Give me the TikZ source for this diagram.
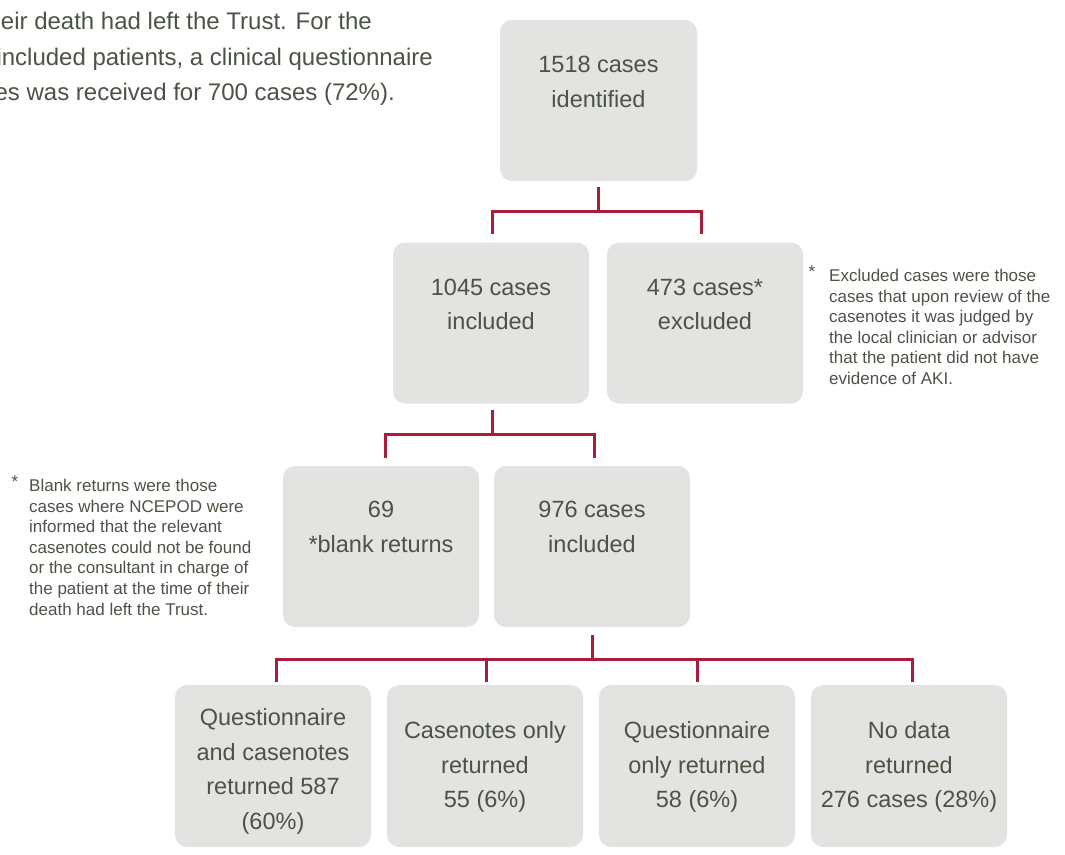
\documentclass[tikz,border=0pt]{standalone}
\usepackage{fontspec}
\setmainfont{Liberation Sans}
\usetikzlibrary{calc}
\definecolor{boxfill}{HTML}{E3E4E1}
\definecolor{txtcol}{HTML}{4A5345}
\definecolor{conncol}{HTML}{A91C3A}
\begin{document}
\begin{tikzpicture}[x=1pt,y=-1pt,
  box/.style={fill=boxfill, rounded corners=12pt, minimum width=196pt, minimum height=161pt, inner sep=0pt},
  lbl/.style={text=txtcol, font=\fontsize{23.5}{34.5}\selectfont, align=center, anchor=north, inner sep=0pt},
  para/.style={text=txtcol, font=\fontsize{24}{35.5}\selectfont, anchor=base east, inner sep=0pt},
  note/.style={text=txtcol, font=\fontsize{17}{20.6}\selectfont, align=left, anchor=north west, inner sep=0pt},
  star/.style={text=txtcol, font=\fontsize{17}{20.6}\selectfont, anchor=north, inner sep=0pt},
  link/.style={draw=conncol, line width=3pt}]
\useasboundingbox (0,0) rectangle (1065,854);
\clip (0,0) rectangle (1065,854);

% paragraph fragment (cut at the left edge)
\node[para] (p1) at (372,29) {their death had left the Trust. For the};
\node[para] (p2) at (433,65) {included patients, a clinical questionnaire};
\node[para] (p3) at (395,100) {casenotes was received for 700 cases (72\%).};

% boxes
\node[box, minimum width=197pt] (b1) at (598.5,100.5) {};
\node[box] (b2) at (491,323) {};
\node[box] (b3) at (705,323) {};
\node[box] (b4) at (381,546.5) {};
\node[box] (b5) at (592,546.5) {};
\node[box, minimum height=162pt] (c1) at (273,766) {};
\node[box, minimum height=162pt] (c2) at (485,766) {};
\node[box, minimum height=162pt] (c3) at (697,766) {};
\node[box, minimum height=162pt] (c4) at (909,766) {};

% box texts
\node[lbl] (t1) at ($(b1.north)+(0,36.5)$) {1518 cases\\identified};
\node[lbl] (t2) at ($(b2.north)+(0,36.5)$) {1045 cases\\included};
\node[lbl] (t3) at ($(b3.north)+(0,36.5)$) {473 cases*\\excluded};
\node[lbl] (t4) at ($(b4.north)+(0,35.5)$) {69\\*blank returns};
\node[lbl] (t5) at ($(b5.north)+(0,35.5)$) {976 cases\\included};
\node[lbl] (u1) at ($(c1.north)+(0,23.5)$) {Questionnaire\\and casenotes\\returned 587\\(60\%)};
\node[lbl] (u2) at ($(c2.north)+(0,36.5)$) {Casenotes only\\returned\\55 (6\%)};
\node[lbl] (u3) at ($(c3.north)+(0,36.5)$) {Questionnaire\\only returned\\58 (6\%)};
\node[lbl] (u4) at ($(c4.north)+(0,36.5)$) {No data\\returned\\276 cases (28\%)};

% notes
\node[star] (s1) at (812,266) {*};
\node[note] (n1) at (829,269) {Excluded cases were those\\cases that upon review of the\\casenotes it was judged by\\the local clinician or advisor\\that the patient did not have\\evidence of AKI.};
\node[star] (s2) at (15,476) {*};
\node[note] (n2) at (29,479) {Blank returns were those\\cases where NCEPOD were\\informed that the relevant\\casenotes could not be found\\or the consultant in charge of\\the patient at the time of their\\death had left the Trust.};

% connectors
\coordinate (j1) at ($(b1.south)+(0,30)$);
\draw[link] ($(b1.south)+(0,6)$) -- (j1);
\draw[link] ($(b2.north)+(1,-8)$) |- (j1) -| ($(b3.north)+(-4,-8)$);

\coordinate (j2) at ($(b2.south)+(1,31)$);
\draw[link] ($(b2.south)+(1,6)$) -- (j2);
\draw[link] ($(b4.north)+(4,-8)$) |- (j2) -| ($(b5.north)+(2,-8)$);

\coordinate (j3) at ($(b5.south)+(0,32)$);
\draw[link] ($(b5.south)+(0,8)$) -- (j3);
\draw[link] ($(c1.north)+(3,-3)$) |- (j3) -| ($(c4.north)+(3,-3)$);
\draw[link] ($(c2.north)+(1,-3)$) -- ($(c2.north)+(1,-26)$);
\draw[link] ($(c3.north)+(0,-3)$) -- ($(c3.north)+(0,-26)$);
\end{tikzpicture}
\end{document}
